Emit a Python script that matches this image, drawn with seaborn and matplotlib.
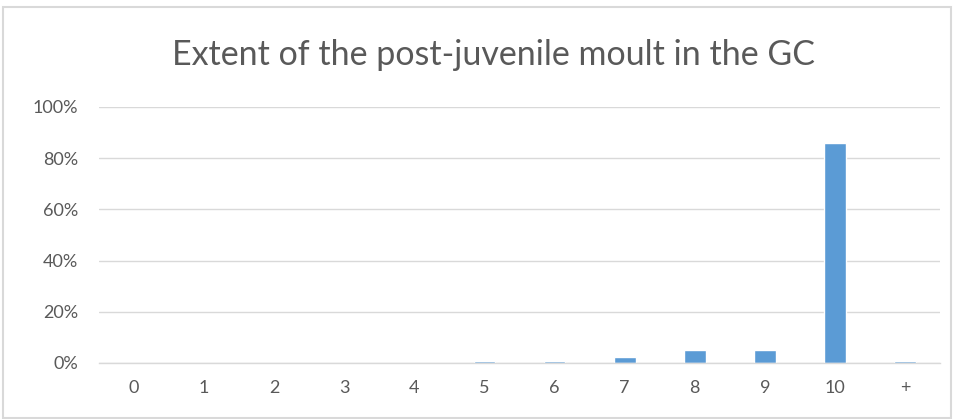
import matplotlib
matplotlib.use("Agg")
import matplotlib.pyplot as plt
import seaborn as sns
import pandas as pd
from matplotlib.ticker import PercentFormatter

categories = ["0", "1", "2", "3", "4", "5", "6", "7", "8", "9", "10", "+"]
values = [0, 0, 0, 0, 0, 0.7, 0.7, 2.2, 5.1, 5.1, 86.0, 0.7]
yticks = [0, 20, 40, 60, 80, 100]
title = "Extent of the post-juvenile moult in the GC"

sns.set_theme(style="white")
plt.rcParams["font.family"] = ["Lato", "DejaVu Sans"]

df = pd.DataFrame({"cat": categories, "val": values})

fig = plt.figure(figsize=(9.54, 4.19), dpi=100)
ax = fig.add_axes([0.1038, 0.1337, 0.8816, 0.611])
sns.barplot(data=df, x="cat", y="val", color="#5B9BD5", width=0.31,
            saturation=1, ax=ax, order=categories)
ax.set_ylim(0, 100)
ax.set_xlim(-0.5, 11.5)
ax.set_yticks(yticks)
ax.yaxis.set_major_formatter(PercentFormatter(decimals=0))
ax.grid(axis="y", color="#D9D9D9", linewidth=1)
ax.set_axisbelow(True)
for s in ["top", "right", "left"]:
    ax.spines[s].set_visible(False)
ax.spines["bottom"].set_color("#D9D9D9")
ax.spines["bottom"].set_linewidth(1)
ax.tick_params(axis="both", length=0, labelsize=13, colors="#595959")
ax.tick_params(axis="y", pad=15)
ax.tick_params(axis="x", pad=12)
ax.set_xlabel("")
ax.set_ylabel("")
fig.text(0.517, 1 - 65 / 419, title, ha="center", va="baseline",
         fontsize=24.5, color="#595959")

border = plt.Rectangle((0.003, 0.003), 0.994, 0.98, transform=fig.transFigure,
                       fill=False, edgecolor="#D9D9D9", linewidth=1.5)
fig.patches.append(border)

fig.savefig("out.png", dpi=100, facecolor="white")
